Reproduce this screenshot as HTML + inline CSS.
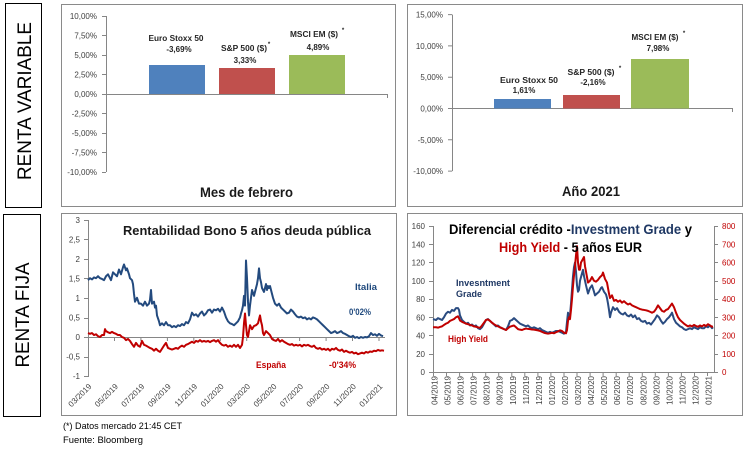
<!DOCTYPE html>
<html><head><meta charset="utf-8"><style>
html,body{margin:0;padding:0;background:#fff;}
svg{display:block;font-family:"Liberation Sans",sans-serif;}
.t{font-size:8px;fill:#404040;}
.b{font-weight:bold;fill:#262626;}
</style></head><body>
<svg width="751" height="450" viewBox="0 0 751 450" xmlns="http://www.w3.org/2000/svg">
<rect x="0" y="0" width="751" height="450" fill="#fff"/>

<!-- side boxes -->
<rect x="5.5" y="3.5" width="36" height="204" fill="none" stroke="#000" stroke-width="1"/>
<text transform="translate(31,101) rotate(-90)" text-anchor="middle" font-size="19" fill="#000" textLength="158" lengthAdjust="spacingAndGlyphs">RENTA VARIABLE</text>
<rect x="3.5" y="214.5" width="37" height="202" fill="none" stroke="#000" stroke-width="1"/>
<text transform="translate(29,315) rotate(-90)" text-anchor="middle" font-size="19" fill="#000" textLength="105" lengthAdjust="spacingAndGlyphs">RENTA FIJA</text>

<!-- chart boxes -->
<rect x="61.5" y="4.5" width="334" height="202" fill="none" stroke="#8a8a8a" stroke-width="1"/>
<rect x="407.5" y="4.5" width="335" height="202" fill="none" stroke="#8a8a8a" stroke-width="1"/>
<rect x="61.5" y="213.5" width="335" height="202" fill="none" stroke="#8a8a8a" stroke-width="1"/>
<rect x="407.5" y="213.5" width="335" height="202" fill="none" stroke="#8a8a8a" stroke-width="1"/>

<!-- ===== Top-left: Mes de febrero ===== -->
<g stroke="#868686" stroke-width="1" fill="none">
<line x1="106.5" y1="16" x2="106.5" y2="172"/>
<line x1="106" y1="94.5" x2="387.5" y2="94.5"/>
<line x1="387.5" y1="94" x2="387.5" y2="98"/>
<path d="M102 16.5H106M102 35.5H106M102 55.5H106M102 74.5H106M102 94.5H106M102 113.5H106M102 133.5H106M102 152.5H106M102 172.5H106"/>
</g>
<g class="t" text-anchor="end">
<text x="97" y="19">10,00%</text><text x="97" y="38.5">7,50%</text><text x="97" y="58">5,00%</text>
<text x="97" y="77.5">2,50%</text><text x="97" y="97">0,00%</text><text x="97" y="116.5">-2,50%</text>
<text x="97" y="136">-5,00%</text><text x="97" y="155.5">-7,50%</text><text x="97" y="175">-10,00%</text>
</g>
<rect x="149" y="65" width="56" height="29" fill="#4F81BD"/>
<rect x="219" y="68" width="56" height="26" fill="#C0504D"/>
<rect x="289" y="55" width="56" height="39" fill="#9BBB59"/>
<g class="b" font-size="8" text-anchor="middle">
<text x="176" y="41" textLength="55" lengthAdjust="spacingAndGlyphs">Euro Stoxx 50</text>
<text x="179" y="52">-3,69%</text>
<text x="244" y="51" textLength="46" lengthAdjust="spacingAndGlyphs">S&amp;P 500 ($)</text>
<text x="269" y="46" font-size="6">*</text>
<text x="245" y="63">3,33%</text>
<text x="314" y="37" textLength="48" lengthAdjust="spacingAndGlyphs">MSCI EM ($)</text>
<text x="343" y="32" font-size="6">*</text>
<text x="318" y="50">4,89%</text>
</g>
<text x="246.5" y="197" text-anchor="middle" font-size="13.5" fill="#1a1a1a" font-weight="bold" textLength="93" lengthAdjust="spacingAndGlyphs">Mes de febrero</text>

<!-- ===== Top-right: Año 2021 ===== -->
<g stroke="#868686" stroke-width="1" fill="none">
<line x1="452.5" y1="14.6" x2="452.5" y2="171.1"/>
<line x1="452" y1="108.5" x2="732.5" y2="108.5"/>
<line x1="732.5" y1="108" x2="732.5" y2="112"/>
<path d="M448 14.6H452M448 45.9H452M448 77.2H452M448 108.5H452M448 139.8H452M448 171.1H452"/>
</g>
<g class="t" text-anchor="end">
<text x="443" y="17.6">15,00%</text><text x="443" y="48.9">10,00%</text><text x="443" y="80.2">5,00%</text>
<text x="443" y="111.5">0,00%</text><text x="443" y="142.8">-5,00%</text><text x="443" y="174.1">-10,00%</text>
</g>
<rect x="494" y="99" width="57" height="9.5" fill="#4F81BD"/>
<rect x="563" y="95" width="57" height="13.5" fill="#C0504D"/>
<rect x="631" y="59" width="58" height="49.5" fill="#9BBB59"/>
<g class="b" font-size="8" text-anchor="middle">
<text x="529" y="83" textLength="58" lengthAdjust="spacingAndGlyphs">Euro Stoxx 50</text>
<text x="524" y="93">1,61%</text>
<text x="591" y="75" textLength="47" lengthAdjust="spacingAndGlyphs">S&amp;P 500 ($)</text>
<text x="620" y="70" font-size="6">*</text>
<text x="593" y="85">-2,16%</text>
<text x="655" y="40" textLength="47" lengthAdjust="spacingAndGlyphs">MSCI EM ($)</text>
<text x="684" y="35" font-size="6">*</text>
<text x="658" y="51">7,98%</text>
</g>
<text x="591" y="196" text-anchor="middle" font-size="13.5" fill="#1a1a1a" font-weight="bold" textLength="58" lengthAdjust="spacingAndGlyphs">Año 2021</text>

<!-- ===== Bottom-left: Rentabilidad ===== -->
<g stroke="#868686" stroke-width="1" fill="none">
<line x1="88.5" y1="220" x2="88.5" y2="377"/>
<line x1="88" y1="337.5" x2="385" y2="337.5"/>
<path d="M84 220.5H88M84 239.5H88M84 259.5H88M84 278.5H88M84 298.5H88M84 318.5H88M84 337.5H88M84 357.5H88M84 376.5H88"/>
<path d="M114.5 337V341M140.9 337V341M167.4 337V341M193.8 337V341M220.3 337V341M246.7 337V341M273.2 337V341M299.6 337V341M326.1 337V341M352.5 337V341M379 337V341"/>
</g>
<g class="t" text-anchor="end">
<text x="80" y="223">3</text><text x="80" y="242.5">2,5</text><text x="80" y="262">2</text>
<text x="80" y="281.5">1,5</text><text x="80" y="301">1</text><text x="80" y="320.5">0,5</text>
<text x="80" y="340">0</text><text x="80" y="359.5">-0,5</text><text x="80" y="379">-1</text>
</g>
<g class="t" text-anchor="end" font-size="9">
<text transform="translate(92,387) rotate(-45)">03/2019</text>
<text transform="translate(118.5,387) rotate(-45)">05/2019</text>
<text transform="translate(144.9,387) rotate(-45)">07/2019</text>
<text transform="translate(171.4,387) rotate(-45)">09/2019</text>
<text transform="translate(197.8,387) rotate(-45)">11/2019</text>
<text transform="translate(224.3,387) rotate(-45)">01/2020</text>
<text transform="translate(250.7,387) rotate(-45)">03/2020</text>
<text transform="translate(277.2,387) rotate(-45)">05/2020</text>
<text transform="translate(303.6,387) rotate(-45)">07/2020</text>
<text transform="translate(330.1,387) rotate(-45)">09/2020</text>
<text transform="translate(356.5,387) rotate(-45)">11/2020</text>
<text transform="translate(383,387) rotate(-45)">01/2021</text>
</g>
<g transform="translate(0,337) scale(1,-39.2)" fill="none" stroke-width="2" stroke-linejoin="round">
<polyline vector-effect="non-scaling-stroke" stroke="#C00000" points="88,0.1 90,0.08 92,0.1 94,0.05 96,0.07 98,0.02 100,0 102,0.05 104,0.05 105,0.2 106,0.15 108,0.12 110,0.1 112,0.13 114,0.1 116,0.08 118,0.05 120,0.05 122,0 124,-0.02 126,-0.08 128,-0.05 130,-0.1 132,-0.18 134,-0.25 136,-0.15 138,-0.22 140,-0.25 142,-0.1 144,-0.2 146,-0.22 148,-0.25 150,-0.28 152,-0.3 154,-0.35 156,-0.3 158,-0.35 160,-0.38 162,-0.3 164,-0.22 166,-0.15 168,-0.28 170,-0.3 172,-0.32 174,-0.3 176,-0.28 178,-0.3 180,-0.25 182,-0.22 184,-0.25 186,-0.2 188,-0.18 190,-0.15 192,-0.12 194,-0.15 196,-0.1 198,-0.12 200,-0.08 202,-0.12 204,-0.1 206,-0.12 208,-0.1 210,-0.13 212,-0.1 214,-0.08 216,-0.12 218,-0.08 220,-0.15 222,-0.2 224,-0.22 226,-0.2 228,-0.25 230,-0.22 232,-0.25 234,-0.2 236,-0.25 238,-0.2 240,-0.28 242,-0.2 243,0 244,0.35 245,0.6 246,0.3 247,0.05 248,0 249,0.15 250,0.3 252,0.2 254,0.28 256,0.3 258,0.35 260,0.55 261,0.4 262,0.3 263,0.1 264,0.05 266,0.15 268,0.1 270,0.05 272,-0.05 274,-0.08 276,-0.1 278,-0.05 280,-0.12 282,-0.08 284,-0.12 286,-0.15 288,-0.18 290,-0.2 292,-0.18 294,-0.22 296,-0.2 298,-0.22 300,-0.2 302,-0.24 304,-0.2 306,-0.22 308,-0.2 310,-0.23 312,-0.25 314,-0.22 316,-0.28 318,-0.3 320,-0.28 322,-0.32 324,-0.3 326,-0.33 328,-0.3 330,-0.35 332,-0.3 334,-0.32 336,-0.28 338,-0.33 340,-0.35 342,-0.32 344,-0.38 346,-0.35 348,-0.38 350,-0.4 352,-0.38 354,-0.42 356,-0.4 358,-0.44 360,-0.42 362,-0.4 364,-0.42 366,-0.38 368,-0.4 370,-0.37 372,-0.38 374,-0.35 376,-0.36 378,-0.33 380,-0.35 382,-0.34 384,-0.35"/>
<polyline vector-effect="non-scaling-stroke" stroke="#234A7E" points="88,1.45 90,1.5 92,1.47 94,1.52 96,1.5 98,1.55 100,1.5 102,1.48 104,1.45 106,1.55 108,1.6 110,1.5 111,1.45 113,1.65 115,1.6 117,1.55 119,1.72 121,1.6 123,1.78 124,1.85 126,1.7 127,1.75 129,1.6 130,1.5 132,1.45 133,1.35 134,1.1 135,0.9 137,1 139,0.85 141,0.85 143,0.8 145,0.9 147,0.8 149,0.85 150,0.95 151,1.2 152,0.85 154,0.9 155,0.75 156,0.8 157,0.55 159,0.4 160,0.3 162,0.35 164,0.3 166,0.38 168,0.3 170,0.3 172,0.25 174,0.28 176,0.25 178,0.3 180,0.28 182,0.33 184,0.3 186,0.38 188,0.35 190,0.45 192,0.62 194,0.55 196,0.58 198,0.52 200,0.6 202,0.65 204,0.55 206,0.6 208,0.68 210,0.7 212,0.62 214,0.7 216,0.68 218,0.72 220,0.65 222,0.75 224,0.65 226,0.5 228,0.4 230,0.35 232,0.33 234,0.3 236,0.35 238,0.4 240,0.5 241,0.6 242,0.68 243,0.8 244,1.05 245,0.8 246,1.95 247,1.5 248,0.9 249,0.55 250,0.8 251,1 252,1.2 254,1.05 255,1.15 257,1.35 258,1.5 259,1.75 260,1.5 261,1.4 262,1.25 264,1.15 266,1.35 267,1.2 268,1.3 269,1.25 270,1.3 272,1.1 273,1 275,0.85 277,0.8 279,0.85 281,0.75 283,0.7 285,0.65 287,0.6 289,0.62 291,0.7 293,0.65 295,0.58 297,0.52 299,0.5 301,0.52 303,0.48 305,0.5 307,0.45 309,0.48 311,0.45 313,0.5 315,0.48 317,0.45 319,0.4 321,0.35 323,0.3 325,0.25 327,0.2 329,0.15 331,0.1 333,0.12 335,0.15 337,0.1 339,0.12 341,0.15 343,0.1 345,0.08 347,0.05 349,0.02 351,0 353,0.03 355,-0.02 357,0 359,-0.03 361,0 363,-0.02 365,0 367,-0.01 369,0.02 371,0.1 373,0.05 375,0.07 377,0.03 379,0.08 381,0.04 383,0.02"/>
</g>
<text x="247" y="235" text-anchor="middle" font-size="12.5" font-weight="bold" fill="#1a1a1a" textLength="248" lengthAdjust="spacingAndGlyphs">Rentabilidad Bono 5 años deuda pública</text>
<g font-size="9" font-weight="bold">
<text x="355" y="290" fill="#1F497D" textLength="22" lengthAdjust="spacingAndGlyphs">Italia</text>
<text x="349" y="315" fill="#1F497D" textLength="22" lengthAdjust="spacingAndGlyphs">0'02%</text>
<text x="256" y="368" fill="#C00000" textLength="30" lengthAdjust="spacingAndGlyphs">España</text>
<text x="329" y="368" fill="#C00000" textLength="27" lengthAdjust="spacingAndGlyphs">-0'34%</text>
</g>

<!-- ===== Bottom-right: Diferencial ===== -->
<g stroke="#868686" stroke-width="1" fill="none">
<line x1="433.5" y1="226" x2="433.5" y2="372"/>
<line x1="714.5" y1="226" x2="714.5" y2="372"/>
<line x1="433" y1="372.5" x2="715" y2="372.5"/>
<path d="M429 226.5H433M429 244.5H433M429 262.5H433M429 281.5H433M429 299.5H433M429 317.5H433M429 335.5H433M429 354.5H433M429 372.5H433"/>
<path d="M714 226.5H718M714 244.5H718M714 262.5H718M714 281.5H718M714 299.5H718M714 317.5H718M714 335.5H718M714 354.5H718M714 372.5H718"/>
<path d="M433.5 372V376M446.5 372V376M459.6 372V376M472.6 372V376M485.7 372V376M498.7 372V376M511.8 372V376M524.8 372V376M537.9 372V376M550.9 372V376M564 372V376M577 372V376M590.1 372V376M603.1 372V376M616.2 372V376M629.2 372V376M642.3 372V376M655.3 372V376M668.4 372V376M681.4 372V376M694.5 372V376M707.5 372V376"/>
</g>
<g class="t" text-anchor="end" font-size="8.5">
<text x="425" y="229">160</text><text x="425" y="247.3">140</text><text x="425" y="265.5">120</text>
<text x="425" y="283.8">100</text><text x="425" y="302">80</text><text x="425" y="320.3">60</text>
<text x="425" y="338.5">40</text><text x="425" y="356.8">20</text><text x="425" y="375">0</text>
</g>
<g class="t" font-size="8.5" style="fill:#C00000">
<text x="722" y="229">800</text><text x="722" y="247.3">700</text><text x="722" y="265.5">600</text>
<text x="722" y="283.8">500</text><text x="722" y="302">400</text><text x="722" y="320.3">300</text>
<text x="722" y="338.5">200</text><text x="722" y="356.8">100</text><text x="722" y="375">0</text>
</g>
<g class="t" text-anchor="end" font-size="8.5">
<text transform="translate(437.5,376) rotate(-90)">04/2019</text>
<text transform="translate(450.5,376) rotate(-90)">05/2019</text>
<text transform="translate(463.6,376) rotate(-90)">06/2019</text>
<text transform="translate(476.6,376) rotate(-90)">07/2019</text>
<text transform="translate(489.7,376) rotate(-90)">08/2019</text>
<text transform="translate(502.7,376) rotate(-90)">09/2019</text>
<text transform="translate(515.8,376) rotate(-90)">10/2019</text>
<text transform="translate(528.8,376) rotate(-90)">11/2019</text>
<text transform="translate(541.9,376) rotate(-90)">12/2019</text>
<text transform="translate(554.9,376) rotate(-90)">01/2020</text>
<text transform="translate(568,376) rotate(-90)">02/2020</text>
<text transform="translate(581,376) rotate(-90)">03/2020</text>
<text transform="translate(594.1,376) rotate(-90)">04/2020</text>
<text transform="translate(607.1,376) rotate(-90)">05/2020</text>
<text transform="translate(620.2,376) rotate(-90)">06/2020</text>
<text transform="translate(633.2,376) rotate(-90)">07/2020</text>
<text transform="translate(646.3,376) rotate(-90)">08/2020</text>
<text transform="translate(659.3,376) rotate(-90)">09/2020</text>
<text transform="translate(672.4,376) rotate(-90)">10/2020</text>
<text transform="translate(685.4,376) rotate(-90)">11/2020</text>
<text transform="translate(698.5,376) rotate(-90)">12/2020</text>
<text transform="translate(711.5,376) rotate(-90)">01/2021</text>
</g>
<g transform="translate(0,372) scale(1,-0.9125)" fill="none" stroke-width="2" stroke-linejoin="round">
<polyline vector-effect="non-scaling-stroke" stroke="#2A4B80" points="433,58 436,57 438,59 440,58 442,57 444,60 446,64 448,66 450,65 452,68 454,67 456,70 458,70 459,68 460,62 462,57 464,55 466,53 468,54 470,51 472,52 474,50 476,51 478,48 480,47 482,49 484,53 486,57 488,58 490,56 492,54 494,52 496,50 498,51 500,49 502,48 504,47 506,46 508,50 510,56 512,57 514,59 516,57 518,55 520,53 522,52 524,51 526,50 528,51 530,49 532,48 534,49 536,48 538,47 540,48 542,46 544,45 546,44 548,43 550,44 552,43 554,44 556,45 558,45 560,44 562,43 564,42 566,44 567,55 568,65 569,58 570,62 571,75 572,90 573,105 574,115 575,120 576,110 577,95 578,88 579,90 580,100 582,108 583,112 584,105 586,95 588,86 590,92 592,95 594,88 595,84 597,86 599,88 601,92 602,93 604,88 606,85 607,81 608,75 609,68 610,60 611,65 613,71 615,68 617,70 619,66 621,64 623,63 625,65 627,62 629,61 631,63 633,60 635,62 637,58 639,59 641,56 643,55 645,56 647,53 649,54 651,52 653,55 655,58 657,62 659,60 661,56 663,53 665,55 667,58 669,60 671,63 672,65 674,58 676,54 678,52 680,50 682,49 684,47 686,46 688,47 690,48 692,47 694,49 696,48 698,47 700,49 702,48 704,48 706,50 708,49 710,51 712,48 713,49"/>
</g>
<g transform="translate(0,372) scale(1,-0.1825)" fill="none" stroke-width="2" stroke-linejoin="round">
<polyline vector-effect="non-scaling-stroke" stroke="#C00000" points="433,245 436,245 438,243 440,247 442,250 444,258 446,265 448,270 450,280 452,285 454,290 456,300 458,305 459,295 460,282 462,275 464,270 466,265 468,262 470,258 472,255 474,250 476,248 478,245 480,242 482,255 484,270 486,285 488,288 490,280 492,270 494,262 496,255 498,250 500,245 502,240 504,235 506,230 508,240 510,248 512,252 514,255 516,245 518,235 520,232 522,230 524,235 526,238 528,236 530,235 532,233 534,232 536,230 538,228 540,225 542,220 544,215 546,212 548,210 550,212 552,215 554,212 556,218 558,222 560,228 562,225 564,215 566,212 567,230 568,280 569,300 570,290 571,340 572,400 573,470 574,530 575,580 576,640 577,690 578,600 579,560 580,560 581,600 583,620 584,630 585,580 587,520 588,490 590,500 592,520 594,500 596,495 598,505 600,520 602,530 603,545 605,510 607,490 608,460 609,430 610,405 612,420 614,390 616,395 618,385 620,392 622,380 624,388 626,378 628,370 630,375 632,365 634,360 636,355 638,350 640,345 642,342 644,340 646,338 648,335 650,330 652,325 654,330 656,345 658,365 660,350 662,335 664,330 666,340 668,345 670,360 672,375 674,355 676,325 678,300 680,285 682,275 684,265 686,257 688,250 690,255 692,250 694,258 696,252 698,248 700,255 702,250 704,258 706,252 708,262 710,255 712,248 713,250"/>
</g>
<text x="449" y="234" font-size="14" font-weight="bold" fill="#000" textLength="243" lengthAdjust="spacingAndGlyphs">Diferencial crédito -<tspan fill="#1F3864">Investment Grade</tspan> y</text>
<text x="499" y="252" font-size="14" font-weight="bold" fill="#000" textLength="143" lengthAdjust="spacingAndGlyphs"><tspan fill="#C00000">High Yield</tspan> - 5 años EUR</text>
<g font-size="9.5" font-weight="bold">
<text x="456" y="286" fill="#1F3864" textLength="54" lengthAdjust="spacingAndGlyphs">Invesntment</text>
<text x="456" y="297" fill="#1F3864" textLength="26" lengthAdjust="spacingAndGlyphs">Grade</text>
<text x="448" y="342" fill="#C00000" textLength="40" lengthAdjust="spacingAndGlyphs">High Yield</text>
</g>

<!-- footnotes -->
<text x="63" y="429" font-size="9.5" fill="#000" textLength="119" lengthAdjust="spacingAndGlyphs">(*) Datos mercado 21:45 CET</text>
<text x="63" y="443" font-size="9.5" fill="#000" textLength="80" lengthAdjust="spacingAndGlyphs">Fuente: Bloomberg</text>
</svg>
</body></html>
